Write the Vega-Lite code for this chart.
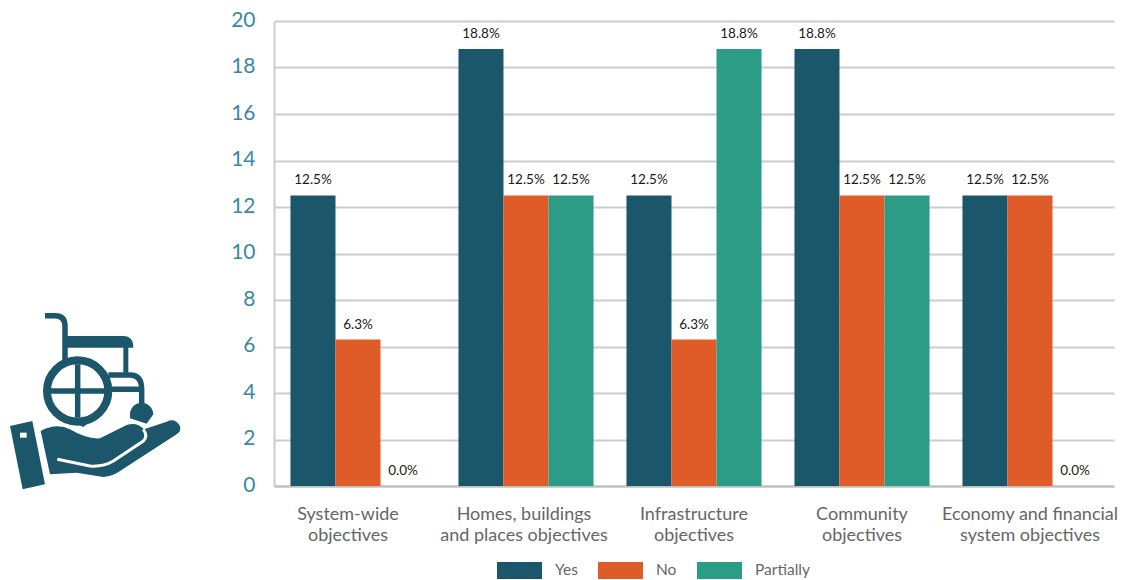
{
  "$schema": "https://vega.github.io/schema/vega-lite/v6.json",
  "background": "white",
  "padding": {"left": 0, "top": 9, "right": 5, "bottom": 0},
  "spacing": 30,
  "config": {"view": {"stroke": null}, "font": "Lato"},
  "data": {"values": [
    {"objective": "System-wide\nobjectives", "response": "Yes", "value": 12.5},
    {"objective": "System-wide\nobjectives", "response": "No", "value": 6.3},
    {"objective": "System-wide\nobjectives", "response": "Partially", "value": 0},
    {"objective": "Homes, buildings\nand places objectives", "response": "Yes", "value": 18.8},
    {"objective": "Homes, buildings\nand places objectives", "response": "No", "value": 12.5},
    {"objective": "Homes, buildings\nand places objectives", "response": "Partially", "value": 12.5},
    {"objective": "Infrastructure\nobjectives", "response": "Yes", "value": 12.5},
    {"objective": "Infrastructure\nobjectives", "response": "No", "value": 6.3},
    {"objective": "Infrastructure\nobjectives", "response": "Partially", "value": 18.8},
    {"objective": "Community\nobjectives", "response": "Yes", "value": 18.8},
    {"objective": "Community\nobjectives", "response": "No", "value": 12.5},
    {"objective": "Community\nobjectives", "response": "Partially", "value": 12.5},
    {"objective": "Economy and financial\nsystem objectives", "response": "Yes", "value": 12.5},
    {"objective": "Economy and financial\nsystem objectives", "response": "No", "value": 12.5},
    {"objective": "Economy and financial\nsystem objectives", "response": "Partially", "value": 0}
  ]},
  "hconcat": [
    {
      "width": 200,
      "height": 465,
      "data": {"values": [{"icon": "wheelchair in hand"}]},
      "encoding": {
        "x": {"datum": 100, "type": "quantitative", "scale": {"domain": [0, 200]}, "axis": null},
        "y": {"datum": 85, "type": "quantitative", "scale": {"domain": [0, 465]}, "axis": null}
      },
      "layer": [
        {"mark": {"type": "point", "filled": true, "opacity": 1, "size": 0.4444, "color": "#1c566b",
          "shape": "M-105,-195H70Q100,-195 100,-160H-105ZM70,-160H85V-85H70ZM90,40A35,35 0 1 1 160,40L140,68L90,52ZM-100,55L-50,78L-10,45L-50,50ZM-178,90Q-130,65 -90,85Q-40,115 0,112L80,72Q110,62 132,85L200,62Q225,50 240,75Q245,90 230,100L60,210Q40,225 10,228L-70,215L-150,220ZM-270,75L-203,60L-165,250L-232,265Z"}},
        {"mark": {"type": "point", "filled": false, "opacity": 1, "size": 0.4444, "color": "#1c566b", "strokeWidth": 5.5,
          "shape": "M-165,-256H-135Q-105,-256 -105,-225V-120M-67,-110V50M-150,-30H20M25,-78H90Q125,-78 125,-35V20M30,-35H125"}},
        {"mark": {"type": "point", "filled": false, "opacity": 1, "size": 0.4444, "color": "#1c566b", "strokeWidth": 8,
          "shape": "M-159,-30A92,92 0 1 1 25,-30A92,92 0 1 1 -159,-30Z"}},
        {"mark": {"type": "point", "filled": false, "opacity": 1, "size": 0.4444, "color": "white", "strokeWidth": 3,
          "shape": "M-128,175L-30,195Q10,198 40,180L130,120Q145,105 130,85"}},
        {"mark": {"type": "point", "filled": true, "opacity": 1, "size": 0.4444, "color": "white",
          "shape": "M-240,95H-220V110H-240Z"}}
      ]
    },
    {
      "width": 840,
      "height": 465,
      "encoding": {
        "x": {
          "field": "objective",
          "type": "nominal",
          "sort": null,
          "title": null,
          "scale": {"paddingInner": 0.196, "paddingOuter": 0.098},
          "axis": {
            "labelAngle": 0,
            "labelExpr": "split(datum.label, '\\n')",
            "labelFontSize": 18,
            "labelColor": "#666666",
            "labelLineHeight": 21,
            "labelPadding": 19,
            "labelLimit": 240,
            "ticks": false,
            "domainColor": "#bdbdbd",
            "domainWidth": 2,
            "labelOffset": {"expr": "indexof(datum.value, 'System') === 0 ? -10 : indexof(datum.value, 'Homes') === 0 ? -2 : 0"}
          }
        },
        "xOffset": {"field": "response", "type": "nominal", "sort": ["Yes", "No", "Partially"]},
        "y": {
          "field": "value",
          "type": "quantitative",
          "title": null,
          "scale": {"domain": [0, 20], "nice": false},
          "axis": {
            "values": [0, 2, 4, 6, 8, 10, 12, 14, 16, 18, 20],
            "labelFontSize": 21,
            "labelColor": "#3d87a1",
            "labelPadding": 19,
            "labelOffset": -1,
            "ticks": false,
            "domainColor": "#cccccc",
            "domainWidth": 2,
            "grid": true,
            "gridColor": "#cccccc",
            "gridWidth": 2
          }
        }
      },
      "layer": [
        {
          "mark": {"type": "bar"},
          "encoding": {
            "color": {
              "field": "response",
              "type": "nominal",
              "sort": ["Yes", "No", "Partially"],
              "title": null,
              "scale": {"domain": ["Yes", "No", "Partially"], "range": ["#1c566b", "#df5c28", "#2c9c87"]},
              "legend": {
                "orient": "none",
                "legendX": 497,
                "legendY": 526.5,
                "direction": "horizontal",
                "columns": 3,
                "symbolType": "M-1,-0.38H1V0.38H-1Z",
                "symbolSize": 2025,
                "symbolStrokeWidth": 0,
                "symbolOpacity": 1,
                "labelFontSize": 15.5,
                "labelColor": "#666666",
                "labelOffset": 13,
                "columnPadding": 20
              }
            }
          }
        },
        {
          "transform": [{"calculate": "format(datum.value, '.1f') + '%'", "as": "label"}],
          "mark": {"type": "text", "baseline": "middle", "dy": -15, "fontSize": 13.5, "color": "#1a1a1a"},
          "encoding": {"text": {"field": "label"}}
        }
      ]
    }
  ]
}
